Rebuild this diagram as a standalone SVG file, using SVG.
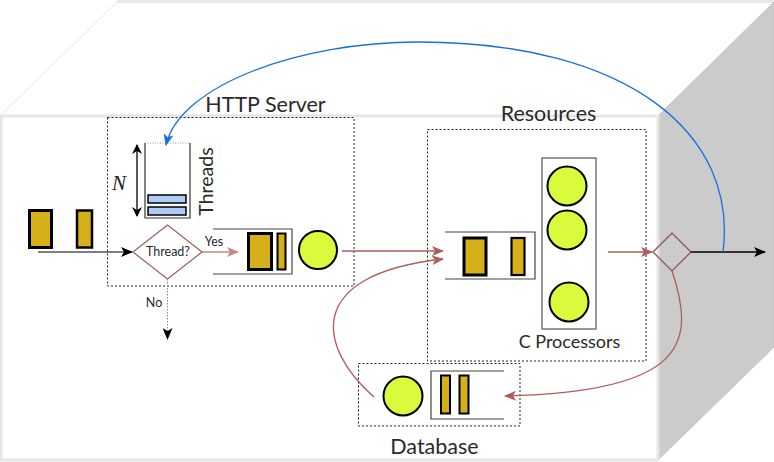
<svg xmlns="http://www.w3.org/2000/svg" width="774" height="462" viewBox="0 0 774 462">
<style>
.txt{font-family:Lato,"Open Sans","Liberation Sans",sans-serif;fill:#2a2a2a}
.dot{fill:none;stroke:#222;stroke-width:1;stroke-dasharray:2,2}
.gold{fill:#d6b01b;stroke:#000}
.cpu{fill:#d9fb3c;stroke:#000;stroke-width:2}
.q{fill:none;stroke:#444;stroke-width:1.2}
.red{fill:none;stroke:#b05c5c;stroke-width:1.3}
</style>
<defs>
<marker id="ab" viewBox="0 0 12 10" refX="11" refY="5" markerWidth="12" markerHeight="10" markerUnits="userSpaceOnUse" orient="auto">
<path d="M0,0 L12,5 L0,10 L3,5 z" fill="#000"/>
</marker>
<marker id="ar" viewBox="0 0 12 10" refX="11" refY="5" markerWidth="12" markerHeight="10" markerUnits="userSpaceOnUse" orient="auto">
<path d="M0,0 L12,5 L0,10 L3,5 z" fill="#b05c5c"/>
</marker>
<marker id="arl" viewBox="0 0 12 10" refX="11" refY="5" markerWidth="12" markerHeight="10" markerUnits="userSpaceOnUse" orient="auto">
<path d="M0,0 L12,5 L0,10 L3,5 z" fill="#c98585"/>
</marker>
<marker id="abl" viewBox="0 0 12 10" refX="11" refY="5" markerWidth="12" markerHeight="10" markerUnits="userSpaceOnUse" orient="auto">
<path d="M0,0 L12,5 L0,10 L3,5 z" fill="#1a6fe0"/>
</marker>
<marker id="n1" viewBox="0 0 10 10" refX="9" refY="5" markerWidth="10" markerHeight="10" markerUnits="userSpaceOnUse" orient="auto-start-reverse">
<path d="M0,0 L10,5 L0,10 L3,5 z" fill="#000"/>
</marker>
</defs>
<rect x="0" y="0" width="774" height="462" fill="#fff"/>
<g id="cube">
<polygon points="0,116 117,2 774,2 658,116" fill="#fff" stroke="#e6e6e6" stroke-width="1"/>
<line x1="117" y1="1.5" x2="774" y2="1.5" stroke="#e8e8e8" stroke-width="3"/>
<polygon points="658,116 774,2 774,347 658,460" fill="#cbcbcb" stroke="#c4c4c4" stroke-width="1"/>
<rect x="1" y="116" width="657" height="344" fill="#fff" stroke="#e6e6e6" stroke-width="3"/>
</g>
<g id="http-server">
<rect class="dot" x="107.5" y="117.5" width="246.5" height="168.5"/>
<text class="txt" x="265.5" y="112" font-size="21.5" text-anchor="middle">HTTP Server</text>
</g>
<g id="threads">
<path d="M145,143 V218 H190 V143" fill="none" stroke="#333" stroke-width="1.2"/>
<line x1="145" y1="143" x2="190" y2="143" stroke="#777" stroke-width="0.8" stroke-dasharray="1,1.5"/>
<rect x="148" y="195" width="38" height="8" fill="#aecbf6" stroke="#000" stroke-width="1.5"/>
<rect x="148" y="207" width="38" height="8" fill="#aecbf6" stroke="#000" stroke-width="1.5"/>
<line x1="137" y1="145" x2="137" y2="216" stroke="#000" stroke-width="1.3" marker-start="url(#n1)" marker-end="url(#n1)"/>
<text x="119" y="190" font-family="'Liberation Serif',serif" font-style="italic" font-size="21" text-anchor="middle" fill="#222">N</text>
<text class="txt" font-size="19.5" text-anchor="middle" transform="translate(213,181.5) rotate(-90)">Threads</text>
</g>
<g id="input">
<rect class="gold" x="29.5" y="210.5" width="22" height="37" stroke-width="3"/>
<rect class="gold" x="77" y="210.5" width="15" height="37" stroke-width="2.5"/>
</g>
<g id="decision">
<polygon points="133,252 167.5,225 202,252 167.5,279" fill="#fff" stroke="#9c5c5c" stroke-width="1.2"/>
<text class="txt" x="168" y="256" font-size="12.5" text-anchor="middle">Thread?</text>
</g>
<g id="http-queue">
<path class="q" d="M213,229 H292 V274 H213"/>
<rect class="gold" x="248.5" y="233.5" width="23" height="36" stroke-width="3"/>
<rect class="gold" x="277.5" y="233.5" width="8" height="36" stroke-width="2"/>
<circle class="cpu" cx="318" cy="250" r="19"/>
</g>
<g id="resources">
<rect class="dot" x="427.5" y="129.5" width="218.5" height="231.5"/>
<text class="txt" x="548.5" y="121" font-size="21.5" text-anchor="middle">Resources</text>
<path class="q" d="M445,232 H535 V279 H445"/>
<rect class="gold" x="464" y="238" width="22" height="37" stroke-width="3"/>
<rect class="gold" x="511.5" y="238" width="13" height="37" stroke-width="2.2"/>
</g>
<g id="processors">
<rect x="542" y="158" width="54" height="171" fill="#fff" stroke="#555" stroke-width="1.2"/>
<circle class="cpu" cx="567" cy="186" r="19.5"/>
<circle class="cpu" cx="567" cy="230" r="19.5"/>
<circle class="cpu" cx="569" cy="302" r="19.5"/>
<text class="txt" x="569.5" y="348" font-size="18" text-anchor="middle">C Processors</text>
</g>
<g id="database">
<rect class="dot" x="358.5" y="363.5" width="161.5" height="62.5"/>
<circle class="cpu" cx="403" cy="396" r="19.5"/>
<path class="q" d="M504,371 H431 V419 H504"/>
<rect class="gold" x="441" y="375.5" width="9" height="38" stroke-width="2"/>
<rect class="gold" x="459.5" y="375.5" width="9" height="38" stroke-width="2"/>
<text class="txt" x="434.5" y="454" font-size="21.5" text-anchor="middle">Database</text>
</g>
<g id="output">
<polygon points="653,252 672,233 691,252 672,271" fill="none" stroke="#8c4b4b" stroke-width="1.2"/>
</g>
<g id="connectors">
<line x1="38" y1="252" x2="132" y2="252" stroke="#000" stroke-width="1.2" marker-end="url(#ab)"/>
<line x1="202" y1="252" x2="238" y2="252" stroke="#c98585" stroke-width="1.3" marker-end="url(#arl)"/>
<text class="txt" x="214" y="246" font-size="12.5" text-anchor="middle">Yes</text>
<line x1="167.5" y1="279" x2="167.5" y2="339" stroke="#888" stroke-width="1" stroke-dasharray="1.5,1.5" marker-end="url(#ab)"/>
<text class="txt" x="154" y="307" font-size="12.5" text-anchor="middle">No</text>
<line class="red" x1="342" y1="251" x2="443" y2="251" marker-end="url(#ar)"/>
<path class="red" d="M374,397 C320,350 300,275 443,259" marker-end="url(#ar)"/>
<line class="red" x1="608" y1="252" x2="652" y2="252" marker-end="url(#ar)"/>
<path class="red" d="M672,271 C695,340 690,392 505,396" marker-end="url(#ar)"/>
<line x1="691" y1="252" x2="765" y2="252" stroke="#000" stroke-width="1.4" marker-end="url(#ab)"/>
<path d="M723,252 C738,135 630,42 418,42 C300,42 180,85 166,145" fill="none" stroke="#1a6fe0" stroke-width="1.3" marker-end="url(#abl)"/>
</g>
</svg>
